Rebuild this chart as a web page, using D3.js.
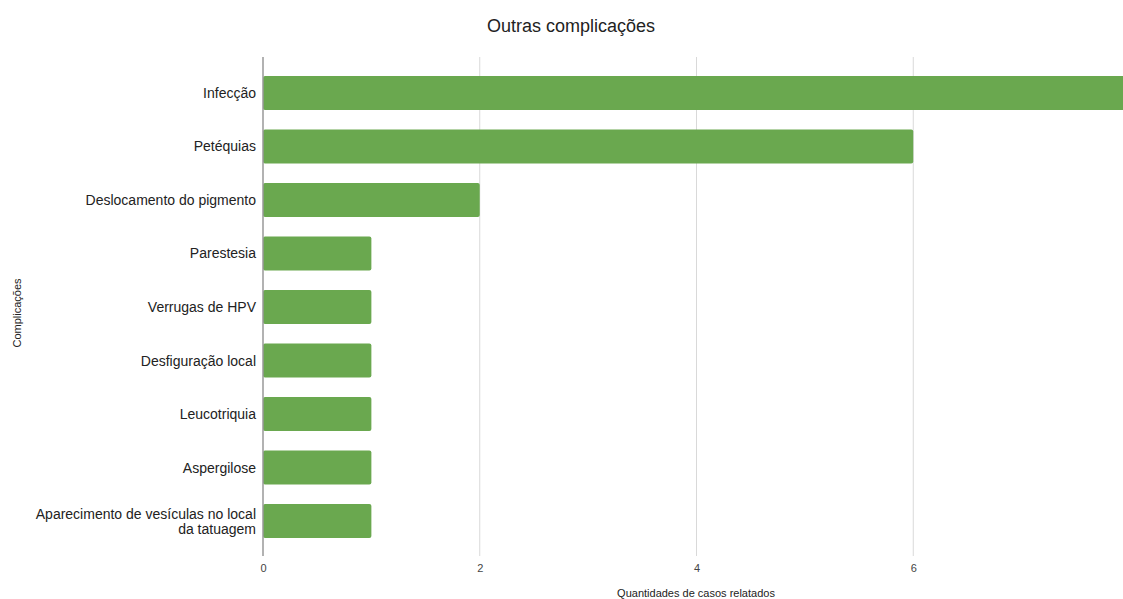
<!DOCTYPE html>
<html>
<head>
<meta charset="utf-8">
<script src="https://cdn.jsdelivr.net/npm/d3@7"></script>
<style>
  html, body { margin: 0; padding: 0; background: #fff; overflow: hidden; }
  svg { display: block; font-family: "Liberation Sans", Arial, sans-serif; }
</style>
</head>
<body>
<svg id="chart" width="1123" height="599"></svg>
<script>
// Complications and number of reported cases
const categories = [
  "Infecção",
  "Petéquias",
  "Deslocamento do pigmento",
  "Parestesia",
  "Verrugas de HPV",
  "Desfiguração local",
  "Leucotriquia",
  "Aspergilose",
  "Aparecimento de vesículas no local|da tatuagem"
];
const cases = [8, 6, 2, 1, 1, 1, 1, 1, 1];
const xTicks = [0, 2, 4, 6];

const title = "Outras complicações";
const xTitle = "Quantidades de casos relatados";
const yTitle = "Complicações";

const svg = d3.select("#chart");
const left = 263;
const plotTop = 57, plotBottom = 556;

const x = d3.scaleLinear().domain([0, 8]).range([left, left + 867]);
const y = d3.scaleBand().domain(categories).range([66.25, 547.75]).paddingInner(0.365).paddingOuter(0.18);

// title
svg.append("text")
  .attr("x", 571).attr("y", 32)
  .attr("text-anchor", "middle")
  .attr("font-size", 18).attr("fill", "#222")
  .text(title);

// vertical gridlines
svg.append("g").selectAll("line")
  .data(xTicks.filter(d => d > 0))
  .join("line")
  .attr("x1", d => x(d)).attr("x2", d => x(d))
  .attr("y1", plotTop).attr("y2", plotBottom)
  .attr("stroke", "#d9d9d9").attr("stroke-width", 1);

// bars
svg.append("g").selectAll("rect")
  .data(categories.map((c, i) => ({ c, v: cases[i] })))
  .join("rect")
  .attr("x", x(0))
  .attr("y", d => y(d.c))
  .attr("width", d => x(d.v) - x(0))
  .attr("height", y.bandwidth())
  .attr("rx", 2)
  .attr("fill", "#6aa84f");

// baseline at zero
svg.append("line")
  .attr("x1", x(0)).attr("x2", x(0))
  .attr("y1", plotTop).attr("y2", plotBottom)
  .attr("stroke", "#999").attr("stroke-width", 1.5);

// x axis tick labels
const xAxis = d3.axisBottom(x).tickValues(xTicks).tickSize(0).tickPadding(0);
const gx = svg.append("g").attr("transform", `translate(0,${plotBottom + 8})`).call(xAxis);
gx.select(".domain").remove();
gx.selectAll("text")
  .attr("font-size", 11).attr("fill", "#444")
  .attr("font-family", "\"Liberation Sans\", Arial, sans-serif");

// y axis category labels
const yAxis = d3.axisLeft(y).tickSize(0).tickPadding(7).tickFormat(() => "");
const gy = svg.append("g").attr("transform", `translate(${left},0)`).call(yAxis);
gy.select(".domain").remove();
gy.selectAll(".tick").each(function(d) {
  const lines = d.split("|");
  const t = d3.select(this).select("text")
    .attr("font-size", 14).attr("fill", "#222")
    .attr("font-family", "\"Liberation Sans\", Arial, sans-serif")
    .attr("text-anchor", "end")
    .attr("dy", null);
  t.text(null);
  const lh = 15;
  lines.forEach((ln, i) => {
    t.append("tspan")
      .attr("x", -7)
      .attr("y", (i - (lines.length - 1) / 2) * lh + 5)
      .text(ln);
  });
});

// axis titles
svg.append("text")
  .attr("x", 696).attr("y", 597)
  .attr("text-anchor", "middle")
  .attr("font-size", 11).attr("fill", "#222")
  .text(xTitle);

svg.append("text")
  .attr("transform", `translate(21,${313}) rotate(-90)`)
  .attr("text-anchor", "middle")
  .attr("font-size", 11).attr("fill", "#222")
  .text(yTitle);
</script>
</body>
</html>
